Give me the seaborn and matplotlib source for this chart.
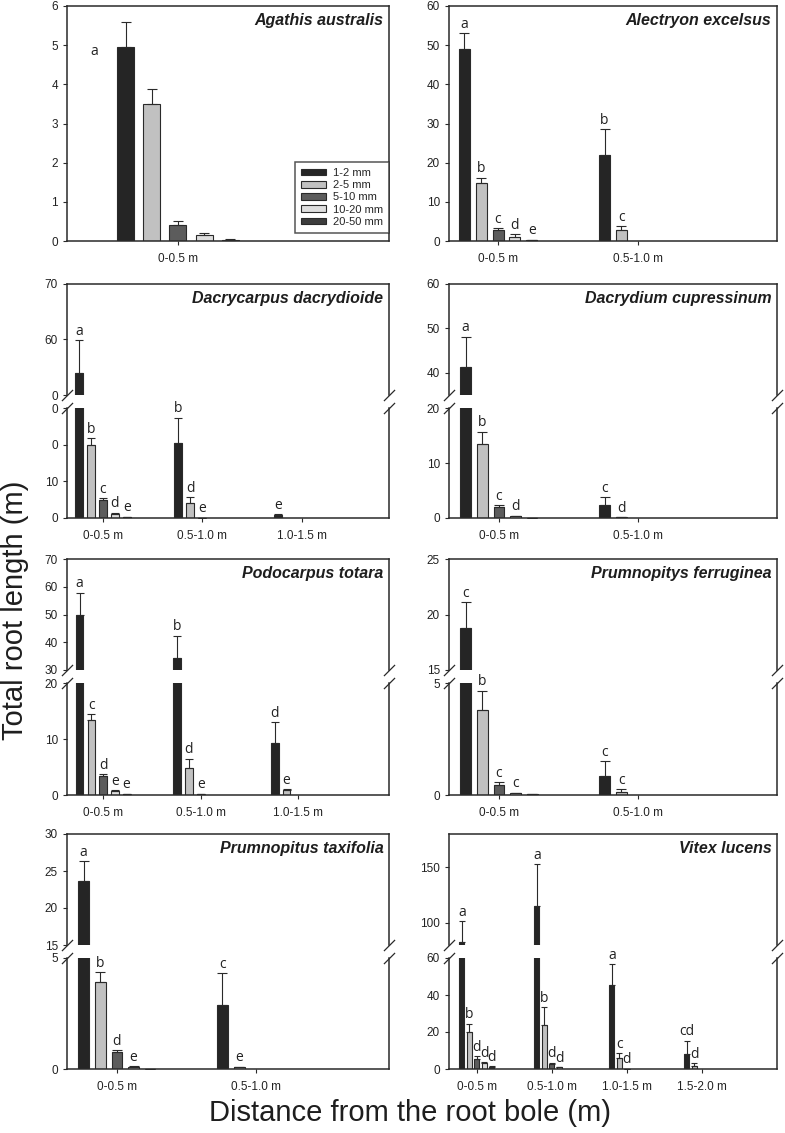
import numpy as np
import pandas as pd
import seaborn as sns
import matplotlib.pyplot as plt
from matplotlib.patches import Patch

sns.set_style('ticks')
plt.rcParams['font.family'] = ['Liberation Sans', 'DejaVu Sans']

sizes = ['1-2 mm', '2-5 mm', '5-10 mm', '10-20 mm', '20-50 mm']
size_colors = ['#252525', '#c1c1c1', '#5c5c5c', '#dedede', '#3d3d3d']
distances = ['0-0.5 m', '0.5-1.0 m', '1.0-1.5 m', '1.5-2.0 m']

# one inner list per distance class, one value per root size class
aga_mean = [[4.95, 3.5, 0.42, 0.16, 0.03]]
aga_err = [[0.65, 0.38, 0.10, 0.04, 0.01]]
aga_let = [['a', '', '', '', '']]

ale_mean = [[49.0, 14.9, 2.8, 1.1, 0.2], [22.0, 2.9]]
ale_err = [[4.0, 1.3, 0.4, 0.6, 0.1], [6.6, 0.9]]
ale_let = [['a', 'b', 'c', 'd', 'e'], ['b', 'c']]

dac_mean = [[54.0, 20.0, 4.9, 1.2, 0.3], [20.4, 4.0, 0.05], [0.8]]
dac_err = [[5.9, 1.7, 0.5, 0.2, 0.1], [7.0, 1.7, 0.0], [0.3]]
dac_let = [['a', 'b', 'c', 'd', 'e'], ['b', 'd', 'e'], ['e']]

dcu_mean = [[41.3, 13.5, 2.0, 0.35, 0.05], [2.3, 0.15]]
dcu_err = [[6.8, 2.2, 0.3, 0.1, 0.0], [1.45, 0.05]]
dcu_let = [['a', 'b', 'c', 'd', ''], ['c', 'd']]

pod_mean = [[50.0, 13.4, 3.4, 0.8, 0.2], [34.4, 4.9, 0.2], [9.2, 0.9]]
pod_err = [[7.8, 1.0, 0.35, 0.1, 0.05], [8.0, 1.6, 0.05], [3.8, 0.15]]
pod_let = [['a', 'c', 'd', 'e', 'e'], ['b', 'd', 'e'], ['d', 'e']]

fer_mean = [[18.8, 3.8, 0.45, 0.08, 0.03], [0.85, 0.15]]
fer_err = [[2.3, 0.85, 0.12, 0.03, 0.0], [0.65, 0.1]]
fer_let = [['c', 'b', 'c', 'c', ''], ['c', 'c']]

tax_mean = [[23.6, 3.9, 0.75, 0.1, 0.02], [2.87, 0.08]]
tax_err = [[2.7, 0.45, 0.1, 0.03, 0.0], [1.45, 0.03]]
tax_let = [['a', 'b', 'd', 'e', ''], ['c', 'e']]

vit_mean = [[83.0, 20.0, 5.4, 3.1, 1.3], [115.3, 24.0, 2.9, 0.9], [45.3, 6.0, 0.2], [8.3, 1.8]]
vit_err = [[18.7, 4.5, 1.4, 0.7, 0.3], [37.7, 9.5, 0.5, 0.2], [11.4, 2.5, 0.0], [7.0, 1.2]]
vit_let = [['a', 'b', 'd', 'd', 'd'], ['a', 'b', 'd', 'd'], ['a', 'c', 'd'], ['cd', 'd']]

INK = '#2a2a2a'
W, H = 785, 1133
COLS = [(67, 389), (449, 777)]
ROWS = [(6, 241), (284, 518), (559, 795), (834, 1069)]
LETTER_FONT = dict(fontsize=10, family=['Open Sans', 'DejaVu Sans'], color='#222')


def to_frame(mean, err, letters):
    rows = []
    for i, (mr, er, lr) in enumerate(zip(mean, err, letters)):
        for j, (m, e, l) in enumerate(zip(mr, er, lr)):
            rows.append({'distance': distances[i], 'size': sizes[j],
                         'length': m, 'se': e, 'letter': l})
    return pd.DataFrame(rows)


def rect(l, r, t, b):
    return [l / W, 1 - b / H, (r - l) / W, (b - t) / H]


def bars(ax, df, n, width, capsize, ylim, letter_left=False):
    sns.barplot(data=df, x='distance', y='length', hue='size',
                order=distances[:n], hue_order=sizes, palette=size_colors,
                width=width, gap=0.35, edgecolor=INK, linewidth=0.8,
                errorbar=None, legend=False, ax=ax)
    ax.set_ylim(*ylim)
    step = width / len(sizes)
    for bar in list(ax.patches):
        xc = bar.get_x() + bar.get_width() / 2
        i = int(round(xc))
        j = int(round((xc - i) / step)) + 2
        row = df[(df['distance'] == distances[i]) & (df['size'] == sizes[j])].iloc[0]
        h = bar.get_height()
        ax.errorbar(xc, h, yerr=[[0], [row['se']]], fmt='none', ecolor=INK,
                    elinewidth=0.8, capsize=capsize, capthick=0.8, zorder=3)
        top = h + row['se']
        if row['letter'] and ylim[0] <= top <= ylim[1]:
            if letter_left:
                ax.annotate(row['letter'], (xc, h), xytext=(-23, -3),
                            textcoords='offset points', ha='center', va='center',
                            **LETTER_FONT)
            else:
                ax.annotate(row['letter'], (xc, top), xytext=(0, 1.0),
                            textcoords='offset points', ha='center', va='bottom',
                            **LETTER_FONT)


def style(ax, xlim, yticks, ylabels=None, bottom=True, top=True):
    ax.set_xlim(*xlim)
    ax.set_xlabel('')
    ax.set_ylabel('')
    ax.set_yticks(yticks)
    ax.set_yticklabels(ylabels if ylabels else [f'{t:g}' for t in yticks])
    for s in ax.spines.values():
        s.set_color(INK)
        s.set_linewidth(1.1)
        s.set_visible(True)
    ax.spines['top'].set_visible(top)
    ax.spines['bottom'].set_visible(bottom)
    ax.tick_params(direction='out', length=3, width=0.8, color=INK,
                   labelsize=8.5, labelcolor='#222')
    ax.tick_params(axis='y', pad=3.5)
    ax.tick_params(axis='x', pad=5.5)
    if not bottom:
        ax.tick_params(axis='x', bottom=False, labelbottom=False)


def title(ax, name):
    ax.annotate(name, (1, 1), xycoords='axes fraction', xytext=(-4, -5),
                textcoords='offset points', ha='right', va='top',
                fontsize=11.5, fontweight='bold', fontstyle='italic', color='#1e1e1e')


def panel(fig, col, row, name, mean, err, letters, xlim, width, capsize,
          lower, lower_ticks, lower_labels=None, upper=None, upper_ticks=None,
          upper_labels=None, letter_left=False):
    l, r = COLS[col]
    t, b = ROWS[row]
    df = to_frame(mean, err, letters)
    n = len(mean)
    if upper is None:
        ax = fig.add_axes(rect(l, r, t, b))
        bars(ax, df, n, width, capsize, lower, letter_left)
        style(ax, xlim, lower_ticks, lower_labels)
        title(ax, name)
        return ax
    ax_up = fig.add_axes(rect(l, r, t, t + 111))
    ax_lo = fig.add_axes(rect(l, r, t + 124, b))
    bars(ax_up, df, n, width, capsize, upper)
    bars(ax_lo, df, n, width, capsize, lower)
    style(ax_up, xlim, upper_ticks, upper_labels, bottom=False)
    style(ax_lo, xlim, lower_ticks, lower_labels, top=False)
    title(ax_up, name)
    kw = dict(marker=[(-1, -1), (1, 1)], markersize=8, linestyle='none',
              color=INK, mec=INK, mew=0.9, clip_on=False)
    ax_up.plot([0, 1], [0, 0], transform=ax_up.transAxes, **kw)
    ax_lo.plot([0, 1], [1, 1], transform=ax_lo.transAxes, **kw)
    return ax_lo


fig = plt.figure(figsize=(7.85, 11.33), dpi=100)

ax_aga = panel(fig, 0, 0, 'Agathis australis', aga_mean, aga_err, aga_let,
               (-0.51, 0.97), 0.6, 3.5, (0, 6), list(range(7)), letter_left=True)
panel(fig, 1, 0, 'Alectryon excelsus', ale_mean, ale_err, ale_let,
      (-0.35, 1.99), 0.6, 3.5, (0, 60), list(range(0, 61, 10)))
panel(fig, 0, 1, 'Dacrycarpus dacrydioide', dac_mean, dac_err, dac_let,
      (-0.36, 2.88), 0.6, 3.0, (0, 30), [0, 10, 20, 30], ['0', '10', '0', '0'],
      upper=(50, 70), upper_ticks=[50, 60, 70], upper_labels=['0', '60', '70'])
panel(fig, 1, 1, 'Dacrydium cupressinum', dcu_mean, dcu_err, dcu_let,
      (-0.36, 2.0), 0.6, 3.5, (0, 20), [0, 10, 20],
      upper=(35, 60), upper_ticks=[40, 50, 60])
panel(fig, 0, 2, 'Podocarpus totara', pod_mean, pod_err, pod_let,
      (-0.37, 2.93), 0.6, 3.0, (0, 20), [0, 10, 20],
      upper=(30, 70), upper_ticks=[30, 40, 50, 60, 70])
panel(fig, 1, 2, 'Prumnopitys ferruginea', fer_mean, fer_err, fer_let,
      (-0.36, 2.0), 0.6, 3.5, (0, 5), [0, 5],
      upper=(15, 25), upper_ticks=[15, 20, 25])
panel(fig, 0, 3, 'Prumnopitus taxifolia', tax_mean, tax_err, tax_let,
      (-0.36, 1.96), 0.6, 3.5, (0, 5), [0, 5],
      upper=(15, 30), upper_ticks=[15, 20, 25, 30])
panel(fig, 1, 3, 'Vitex lucens', vit_mean, vit_err, vit_let,
      (-0.37, 4.0), 0.5, 2.5, (0, 60), [0, 20, 40, 60],
      upper=(80, 180), upper_ticks=[100, 150])

handles = [Patch(facecolor=c, edgecolor=INK, linewidth=0.8) for c in size_colors]
leg = ax_aga.legend(handles, sizes, loc='lower right', bbox_to_anchor=(1.0, 0.034),
                    borderaxespad=0, fontsize=8, frameon=True, fancybox=False,
                    handlelength=2.25, handleheight=0.55, handletextpad=0.6,
                    labelspacing=0.2, borderpad=0.55)
leg.get_frame().set_edgecolor(INK)
leg.get_frame().set_linewidth(1.1)

fig.text(15 / W, 1 - 610 / H, 'Total root length (m)', rotation=90,
         ha='center', va='center', fontsize=21, color='#1e1e1e')
fig.text(410 / W, 1 - 1113 / H, 'Distance from the root bole (m)',
         ha='center', va='center', fontsize=21, color='#1e1e1e')

fig.savefig('out.png', dpi=100)
